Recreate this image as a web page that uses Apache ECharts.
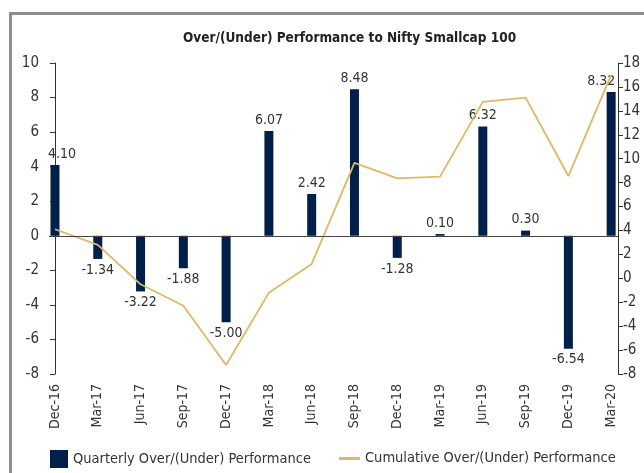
<!DOCTYPE html>
<html lang="en">
<head>
    <meta charset="UTF-8">
    <title>Over/(Under) Performance</title>
    <script src="https://cdn.jsdelivr.net/npm/echarts@6/dist/echarts.min.js"></script>
    <style>
        body {margin: 0; background: #fff;}
        #frame {position: absolute; left: 9px; top: 12px; width: 700px; height: 500px; border-top: 3px solid #8e8e8e; border-left: 3px solid #8e8e8e;}
        #main {position: absolute; left: 0; top: 0; width: 644px; height: 473px;}
    </style>
</head>
<body>
    <div id="frame"></div>
    <div id="main"></div>
    <script>
    var categories = ['Dec-16', 'Mar-17', 'Jun-17', 'Sep-17', 'Dec-17', 'Mar-18', 'Jun-18',
        'Sep-18', 'Dec-18', 'Mar-19', 'Jun-19', 'Sep-19', 'Dec-19', 'Mar-20'];
    var quarterly = [4.10, -1.34, -3.22, -1.88, -5.00, 6.07, 2.42, 8.48, -1.28, 0.10, 6.32, 0.30, -6.54, 8.32];
    var cumulative = [4.1, 2.8, -0.5, -2.3, -7.25, -1.2, 1.2, 9.65, 8.35, 8.5, 14.75, 15.1, 8.55, 17.0];

    var font = '"Liberation Sans Narrow", "DejaVu Sans Condensed", sans-serif';
    var myChart = echarts.init(document.getElementById('main'));

    var barData = quarterly.map(function (v, i) {
        var item = {
            value: [i, v],
            label: {position: v < 0 ? 'bottom' : 'top'}
        };
        // edge labels are nudged inward like in the original
        if (i === 0) item.label.offset = [7, 0];
        if (i === quarterly.length - 1) item.label.offset = [-10, 0];
        return item;
    });
    var lineData = cumulative.map(function (v, i) { return [i, v]; });
    var ticks = categories.map(function (c, i) { return i; });

    var option = {
        animation: false,
        textStyle: {fontFamily: font},
        title: {
            text: 'Over/(Under) Performance to Nifty Smallcap 100',
            left: 178,
            top: 26,
            textStyle: {fontFamily: font, fontSize: 13.5, fontWeight: 'bold', color: '#222'}
        },
        legend: [
            {
                left: 50,
                top: 450,
                padding: 0,
                itemWidth: 18,
                itemHeight: 18,
                textStyle: {fontFamily: font, fontSize: 14.5, color: '#333'},
                data: [{name: 'Quarterly Over/(Under) Performance', icon: 'rect'}]
            },
            {
                left: 339,
                top: 451,
                padding: 0,
                itemWidth: 21,
                itemHeight: 3,
                textStyle: {fontFamily: font, fontSize: 14.5, color: '#333'},
                data: [{name: 'Cumulative Over/(Under) Performance', icon: 'rect'}]
            }
        ],
        grid: {left: 49, right: 26, top: 63, bottom: 99},
        xAxis: {
            type: 'value',
            min: -0.14,
            max: 13.16,
            axisLine: {show: false},
            axisTick: {show: false},
            splitLine: {show: false},
            axisLabel: {
                customValues: ticks,
                rotate: 90,
                margin: 10,
                fontSize: 14,
                color: '#333',
                fontFamily: font,
                formatter: function (v) { return categories[Math.round(v)]; }
            }
        },
        yAxis: [
            {
                type: 'value',
                min: -8,
                max: 10,
                interval: 2,
                axisLine: {show: true, lineStyle: {color: '#333'}},
                axisTick: {show: true, length: 5, lineStyle: {color: '#333'}},
                splitLine: {show: false},
                axisLabel: {fontSize: 15, color: '#333', margin: 10, fontFamily: font}
            },
            {
                type: 'value',
                min: -8,
                max: 18,
                interval: 2,
                axisLine: {show: true, lineStyle: {color: '#333'}},
                axisTick: {show: true, length: 5, lineStyle: {color: '#333'}},
                splitLine: {show: false},
                axisLabel: {fontSize: 15, color: '#333', margin: 5, fontFamily: font}
            }
        ],
        series: [
            {
                name: 'Quarterly Over/(Under) Performance',
                type: 'bar',
                barWidth: 9,
                itemStyle: {color: '#00204a'},
                label: {
                    show: true,
                    fontSize: 14,
                    color: '#333',
                    distance: 4,
                    fontFamily: font,
                    formatter: function (p) { return p.value[1].toFixed(2); }
                },
                markLine: {
                    silent: true,
                    symbol: 'none',
                    label: {show: false},
                    lineStyle: {color: '#444', width: 1, type: 'solid'},
                    data: [{yAxis: 0}]
                },
                data: barData
            },
            {
                name: 'Cumulative Over/(Under) Performance',
                type: 'line',
                yAxisIndex: 1,
                showSymbol: false,
                lineStyle: {color: '#dfb865', width: 1.8},
                itemStyle: {color: '#dfb865'},
                data: lineData
            }
        ]
    };
    myChart.setOption(option);
    </script>
</body>
</html>
